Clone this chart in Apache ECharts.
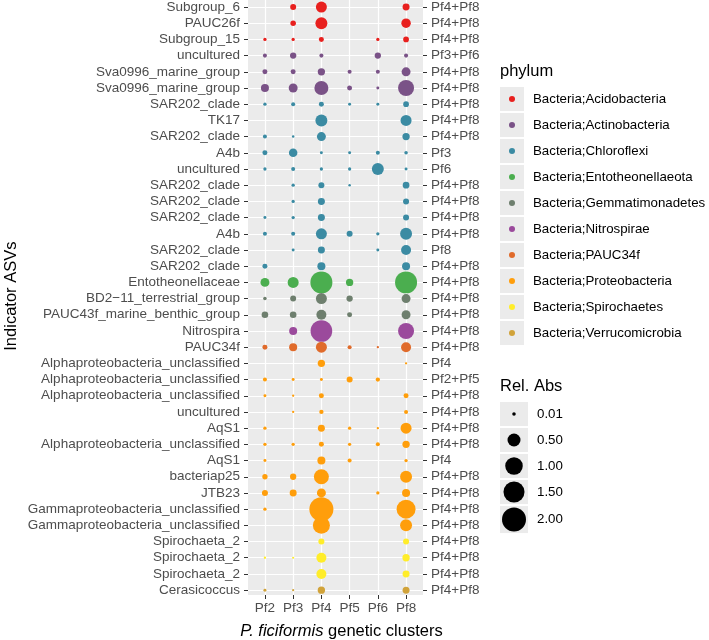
<!DOCTYPE html>
<html>
<head>
<meta charset="utf-8">
<script src="https://cdn.jsdelivr.net/npm/echarts@6.0.0/dist/echarts.min.js"></script>
<style>
  html, body { margin: 0; padding: 0; background: #fff; }
  #main { width: 709px; height: 640px; }
</style>
</head>
<body>
<div id="main"></div>
<script>
// 行：指示 ASV（自上而下）
var asvLabels = ['Subgroup_6', 'PAUC26f', 'Subgroup_15', 'uncultured', 'Sva0996_marine_group', 'Sva0996_marine_group',
  'SAR202_clade', 'TK17', 'SAR202_clade', 'A4b', 'uncultured', 'SAR202_clade', 'SAR202_clade', 'SAR202_clade', 'A4b',
  'SAR202_clade', 'SAR202_clade', 'Entotheonellaceae', 'BD2\u221211_terrestrial_group', 'PAUC43f_marine_benthic_group',
  'Nitrospira', 'PAUC34f', 'Alphaproteobacteria_unclassified', 'Alphaproteobacteria_unclassified',
  'Alphaproteobacteria_unclassified', 'uncultured', 'AqS1', 'Alphaproteobacteria_unclassified', 'AqS1', 'bacteriap25',
  'JTB23', 'Gammaproteobacteria_unclassified', 'Gammaproteobacteria_unclassified', 'Spirochaeta_2', 'Spirochaeta_2',
  'Spirochaeta_2', 'Cerasicoccus'];
// 右侧标签
var rightLabels = ['Pf4+Pf8', 'Pf4+Pf8', 'Pf4+Pf8', 'Pf3+Pf6', 'Pf4+Pf8', 'Pf4+Pf8', 'Pf4+Pf8', 'Pf4+Pf8', 'Pf4+Pf8',
  'Pf3', 'Pf6', 'Pf4+Pf8', 'Pf4+Pf8', 'Pf4+Pf8', 'Pf4+Pf8', 'Pf8', 'Pf4+Pf8', 'Pf4+Pf8', 'Pf4+Pf8', 'Pf4+Pf8',
  'Pf4+Pf8', 'Pf4+Pf8', 'Pf4', 'Pf2+Pf5', 'Pf4+Pf8', 'Pf4+Pf8', 'Pf4+Pf8', 'Pf4+Pf8', 'Pf4', 'Pf4+Pf8', 'Pf4+Pf8',
  'Pf4+Pf8', 'Pf4+Pf8', 'Pf4+Pf8', 'Pf4+Pf8', 'Pf4+Pf8', 'Pf4+Pf8'];
// 每行所属门（phylumNames 的下标）
var asvPhylum = [0, 0, 0, 1, 1, 1, 2, 2, 2, 2, 2, 2, 2, 2, 2, 2, 2, 3, 4, 4, 5, 6, 7, 7, 7, 7, 7, 7, 7, 7, 7, 7, 7, 8, 8, 8, 9];

var clusterLabels = ['Pf2', 'Pf3', 'Pf4', 'Pf5', 'Pf6', 'Pf8'];

var phylumNames = ['Bacteria;Acidobacteria', 'Bacteria;Actinobacteria', 'Bacteria;Chloroflexi',
  'Bacteria;Entotheonellaeota', 'Bacteria;Gemmatimonadetes', 'Bacteria;Nitrospirae', 'Bacteria;PAUC34f',
  'Bacteria;Proteobacteria', 'Bacteria;Spirochaetes', 'Bacteria;Verrucomicrobia'];
var phylumColors = ['#E8201E', '#7A5287', '#3B8BA3', '#4BAE4F', '#6E7F6E', '#9B4A9C', '#E06B2B', '#FF9E0B',
  '#FFED2A', '#D1A33A'];

// 相对丰度（每个遗传簇一列，null = 无）
var pf2 = [null, null, 0.007, 0.017, 0.037, 0.149, 0.007, null, 0.017, 0.037, 0.007, null, null, 0.004, 0.017, null,
  0.037, 0.20, 0.01, 0.09, null, 0.037, null, 0.017, 0.004, null, 0.007, 0.007, 0.004, 0.045, 0.066, 0.007, null,
  null, 0.0004, null, 0.004];
var pf3 = [0.066, 0.05, 0.007, 0.076, 0.037, 0.20, 0.017, null, 0.001, 0.175, 0.017, 0.007, 0.007, 0.007, 0.017,
  0.004, null, 0.335, 0.066, 0.09, 0.149, 0.149, null, 0.004, 0.0004, 0.0004, null, 0.007, null, 0.076, 0.103, null,
  null, null, 0.0001, null, 0.0001];
var pf4 = [0.335, 0.41, 0.037, 0.017, 0.116, 0.595, 0.037, 0.41, 0.20, 0.004, 0.007, 0.066, 0.103, 0.103, 0.335,
  0.103, 0.149, 1.65, 0.335, 0.264, 1.6, 0.335, 0.116, 0.004, 0.037, 0.022, 0.103, 0.037, 0.149, 0.698, 0.20, 2.0,
  0.93, 0.066, 0.264, 0.264, 0.116];
var pf5 = [null, null, null, null, 0.017, 0.037, 0.004, null, null, 0.004, 0.007, 0.001, null, null, 0.066, null,
  null, 0.116, 0.076, 0.037, null, 0.017, null, 0.066, null, null, 0.007, 0.007, 0.017, null, null, null, null, null,
  null, null, null];
var pf6 = [null, null, 0.007, 0.076, 0.017, 0.004, 0.004, null, null, 0.017, 0.41, null, null, null, 0.007, 0.004,
  null, null, null, null, null, 0.0004, null, 0.022, null, null, 0.0004, 0.017, null, null, 0.007, null, null, null,
  null, null, null];
var pf8 = [0.103, 0.23, 0.057, 0.017, 0.20, 0.81, 0.057, 0.335, 0.116, 0.01, 0.004, 0.09, 0.066, 0.066, 0.41, 0.264,
  0.149, 1.65, 0.20, 0.20, 0.81, 0.264, 0.0004, null, 0.037, 0.017, 0.335, 0.116, 0.007, 0.41, 0.149, 1.19, 0.41,
  0.066, 0.116, 0.103, 0.103];

var sizeBreaks = [0.01, 0.5, 1, 1.5, 2];
var sizeBreakLabels = ['0.01', '0.50', '1.00', '1.50', '2.00'];

var clusterValues = [pf2, pf3, pf4, pf5, pf6, pf8];
var rowIdx = asvLabels.map(function (d, i) { return i; });
var colIdx = clusterLabels.map(function (d, i) { return i; });

// 面积比例：直径 2~24px
function sizeFn(v) {
  return 2 + 22 * Math.sqrt(v / 2);
}

var series = phylumNames.map(function (name, p) {
  var data = [];
  for (var r = 0; r < asvLabels.length; r++) {
    if (asvPhylum[r] !== p) continue;
    for (var c = 0; c < clusterValues.length; c++) {
      var v = clusterValues[c][r];
      if (v != null) data.push([c, r, v]);
    }
  }
  return {
    type: 'scatter',
    name: name,
    data: data,
    symbol: 'circle',
    symbolSize: function (val) { return sizeFn(val[2]); },
    itemStyle: { color: phylumColors[p], opacity: 1 },
    emphasis: { disabled: true }
  };
});

var font = 'Liberation Sans, Arial, Helvetica, sans-serif';
var labelSize = 13.5;
var tickStyle = { show: true, length: 4, lineStyle: { color: '#333333', width: 1 } };

var legendBase = {
  orient: 'vertical',
  left: 500,
  top: 87,
  padding: 0,
  itemWidth: 24,
  itemHeight: 24,
  itemGap: 2,
  data: phylumNames,
  selectedMode: false,
  textStyle: { fontFamily: font, fontSize: 13.3, color: '#000', padding: [0, 0, 0, 4] }
};
var legendBg = Object.assign({}, legendBase, {
  icon: 'rect',
  itemStyle: { color: '#EBEBEB', borderWidth: 0 }
});
var legendDot = Object.assign({}, legendBase, {
  icon: 'path://M0,0M24,24M9,12a3,3 0 1,0 6,0a3,3 0 1,0 -6,0z',
  itemStyle: { borderWidth: 0 },
  textStyle: Object.assign({}, legendBase.textStyle, { color: 'rgba(0,0,0,0)' }),
  z: 5
});

// 大小图例
var sizeLegend = [];
var ky = 402;
sizeBreaks.forEach(function (v, i) {
  var d = sizeFn(v);
  var h = Math.max(24, d + 3);
  sizeLegend.push({ type: 'rect', shape: { x: 500, y: ky, width: 28, height: h }, style: { fill: '#EBEBEB' } });
  sizeLegend.push({ type: 'circle', shape: { cx: 514, cy: ky + h / 2, r: d / 2 }, style: { fill: '#000' } });
  sizeLegend.push({ type: 'text', style: { text: sizeBreakLabels[i], x: 537, y: ky + h / 2, verticalAlign: 'middle',
    font: '13.3px ' + font, fill: '#000' } });
  ky += h + 2;
});

var option = {
  animation: false,
  backgroundColor: '#ffffff',
  textStyle: { fontFamily: font },
  grid: {
    left: 248, right: 286, top: -2.7, bottom: 45,
    show: true, backgroundColor: '#EBEBEB', borderWidth: 0,
    outerBoundsMode: 'none'
  },
  xAxis: {
    type: 'value',
    min: -0.6, max: 5.6,
    name: '{i|P. ficiformis} genetic clusters',
    nameLocation: 'middle',
    nameGap: 28,
    nameTextStyle: {
      fontFamily: font, fontSize: 16.5, color: '#000', padding: [0, 0, 0, 12],
      rich: { i: { fontFamily: font, fontSize: 16.5, fontStyle: 'italic', color: '#000' } }
    },
    axisLine: { show: false, onZero: false },
    axisTick: Object.assign({ customValues: colIdx }, tickStyle),
    axisLabel: {
      customValues: colIdx, margin: 6, fontSize: labelSize, color: '#4D4D4D', fontFamily: font,
      formatter: function (v) { return clusterLabels[Math.round(v)]; }
    },
    splitLine: { show: true, lineStyle: { color: '#ffffff', width: 1.2 } }
  },
  yAxis: [{
    type: 'value',
    inverse: true,
    min: -0.6, max: 36.3,
    name: 'Indicator ASVs',
    nameLocation: 'middle',
    nameGap: 228,
    nameTextStyle: { fontFamily: font, fontSize: 16.5, color: '#000' },
    axisLine: { show: false, onZero: false },
    axisTick: Object.assign({ customValues: rowIdx }, tickStyle),
    axisLabel: {
      customValues: rowIdx, margin: 8, fontSize: labelSize, color: '#4D4D4D', fontFamily: font,
      formatter: function (v) { return asvLabels[Math.round(v)]; }
    },
    splitLine: { show: true, lineStyle: { color: '#ffffff', width: 1.2 } }
  }, {
    type: 'value',
    position: 'right',
    inverse: true,
    min: -0.6, max: 36.3,
    axisLine: { show: false, onZero: false },
    axisTick: Object.assign({ customValues: rowIdx }, tickStyle),
    axisLabel: {
      customValues: rowIdx, margin: 8, fontSize: labelSize, color: '#4D4D4D', fontFamily: font,
      formatter: function (v) { return rightLabels[Math.round(v)]; }
    },
    splitLine: { show: false }
  }],
  legend: [legendBg, legendDot],
  graphic: [
    { type: 'text', style: { text: 'phylum', x: 500, y: 71, verticalAlign: 'middle', font: '16.5px ' + font, fill: '#000' } },
    { type: 'text', style: { text: 'Rel. Abs', x: 500, y: 386, verticalAlign: 'middle', font: '16.5px ' + font, fill: '#000' } }
  ].concat(sizeLegend),
  series: series
};

var myChart = echarts.init(document.getElementById('main'));
myChart.setOption(option);
</script>
</body>
</html>
